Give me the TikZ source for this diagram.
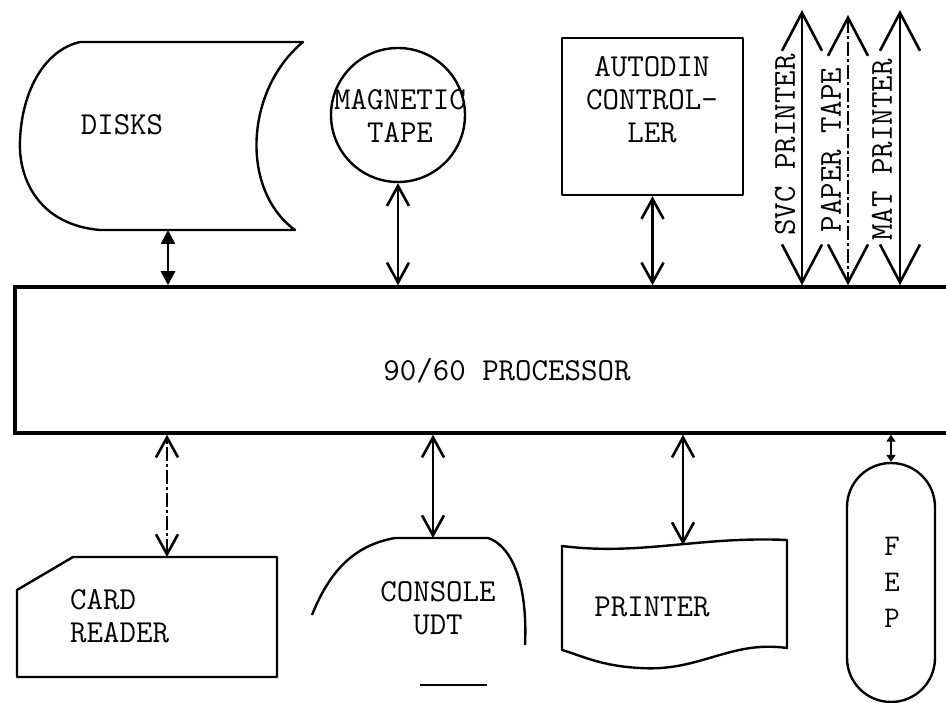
\documentclass[tikz,border=0pt]{standalone}
\usepackage{tikz}
\usetikzlibrary{positioning,arrows.meta,calc}

\begin{document}
\begin{tikzpicture}[
  x=1pt, y=-1pt,
  txt/.style={font=\fontsize{32}{33}\selectfont\ttfamily, align=center, inner sep=0pt},
  outline/.style={line width=2.4pt, line join=round},
  arr/.style={{Straight Barb[length=20pt,width=22pt]}-{Straight Barb[length=20pt,width=22pt]}, line width=2.6pt},
  bigarr/.style={{Straight Barb[length=38pt,width=40pt]}-{Straight Barb[length=38pt,width=40pt]}, line width=2.6pt},
  tri/.style={{Triangle[length=14pt,width=14pt]}-{Triangle[length=14pt,width=14pt]}, line width=2.8pt},
  small/.style={{Triangle[length=7pt,width=9pt]}-{Triangle[length=7pt,width=9pt]}, line width=2.4pt},
  faded/.style={dash pattern=on 14pt off 3pt on 3pt off 3pt},
]
\useasboundingbox (0,0) rectangle (946,703);

%% Processor
\node[draw, line width=3.5pt, minimum width=985pt, minimum height=146pt, inner sep=0pt] (proc) at (507.5,360) {};
\node[txt] (proclbl) at (507,371) {90/60 PROCESSOR};

%% Upper units
% disks (stored data symbol)
\draw[outline] (80,42) -- (303,42)
  .. controls (245,90) and (240,190) .. (295,230) -- (100,230)
  .. controls (40,225) and (18,180) .. (20,140)
  .. controls (22,90) and (45,50) .. (80,42);
\node[txt] (disks) at (122,125) {DISKS};
\coordinate (disksB) at (168,230);

% magnetic tape
\node[circle, draw, outline, minimum size=134pt, inner sep=0pt] (tape) at (398,115) {};
\node[txt] (tapelbl) at (400,116) {MAGNETIC\\TAPE};

% autodin controller
\node[draw, outline, minimum width=181pt, minimum height=157pt, inner sep=0pt] (autodin) at (652.5,116.5) {};
\node[txt] (autolbl) at (652,100) {AUTODIN\\CONTROL-\\LER};

% printers and paper tape
\node[txt, rotate=90] (svc) at (785,145) {SVC PRINTER};
\node[txt, rotate=90] (ptape) at (831,150) {PAPER TAPE};
\node[txt, rotate=90] (mat) at (882,150) {MAT PRINTER};
\coordinate (svcT) at (802,10);
\coordinate (ptapeT) at (848,15);
\coordinate (matT) at (900,10);

%% Lower units
% card reader
\draw[outline] (73,557) -- (277,557) -- (277,677) -- (17,677) -- (17,590) -- cycle;
\node[txt, align=left, anchor=west] (card) at (70,616) {CARD\\READER};
\coordinate (cardT) at (167,557);

% console (display symbol)
\draw[outline] (312,615) .. controls (330,570) and (355,545) .. (395,538) -- (488,538)
  .. controls (510,545) and (528,580) .. (525,645);
\draw[outline] (420,685) -- (487,685);
\node[txt] (console) at (438,608) {CONSOLE\\UDT};
\coordinate (conT) at (433,538);

% printer (document symbol)
\draw[outline] (562,546) .. controls (640,556) and (700,536) .. (787,540) -- (787,648)
  .. controls (730,640) and (700,672) .. (640,668)
  .. controls (600,666) and (580,655) .. (562,650) -- cycle;
\node[txt] (printer) at (652,607) {PRINTER};
\coordinate (prnT) at (683,545);

% front end processor
\node[draw, outline, rounded corners=44pt, minimum width=88pt, minimum height=239pt, inner sep=0pt] (fep) at (891,582.5) {};
\node[txt, font=\fontsize{30}{36}\selectfont\ttfamily] (feplbl) at (892,582) {F\\E\\P};

%% Connectors
\draw[tri] (disksB) -- (disksB |- proc.north);
\draw[arr] (tape.south) -- (tape.south |- proc.north);
\draw[arr] (autodin.south) -- (autodin.south |- proc.north);
\draw[bigarr] (svcT) -- (svcT |- proc.north);
\draw[bigarr, faded] (ptapeT) -- (ptapeT |- proc.north);
\draw[bigarr] (matT) -- (matT |- proc.north);

\draw[arr, faded] (cardT) -- (cardT |- proc.south);
\draw[arr] (conT) -- (conT |- proc.south);
\draw[arr] (prnT) -- (prnT |- proc.south);
\draw[small] (fep.north) -- (fep.north |- proc.south);

\end{tikzpicture}
\end{document}
